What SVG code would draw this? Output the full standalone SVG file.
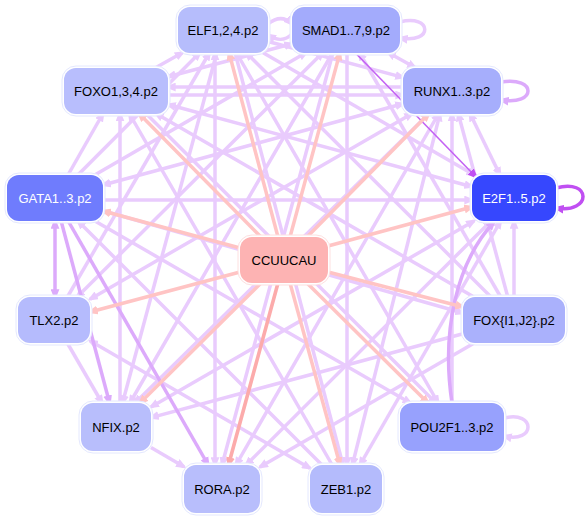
<svg xmlns="http://www.w3.org/2000/svg" width="587" height="518" viewBox="0 0 587 518">
<style>
.e{fill:none;stroke-width:3.5}
.l{stroke:#e9cbfd}
.m{stroke:#dcaafb}
.d{stroke:#c462f4;stroke-width:1.6}
.p{stroke:#ffc4c4}
.pd{stroke:#fcabab;stroke-width:3.6}
.halo{fill:#ffffff;stroke:#e4e8fe;stroke-width:1}
text{font-family:"Liberation Sans",Arial,sans-serif;font-size:13px;text-anchor:middle;dominant-baseline:central;fill:#000}
.w{fill:#ffffff}
</style>
<defs>
<marker id="ml" viewBox="0 0 10 8" refX="7" refY="4" markerWidth="11" markerHeight="9" markerUnits="userSpaceOnUse" orient="auto-start-reverse"><path d="M0,0 L10,4 L0,8 Z" fill="#e9cbfd"/></marker>
<marker id="mm" viewBox="0 0 10 8" refX="7" refY="4" markerWidth="11" markerHeight="9" markerUnits="userSpaceOnUse" orient="auto-start-reverse"><path d="M0,0 L10,4 L0,8 Z" fill="#dcaafb"/></marker>
<marker id="md" viewBox="0 0 10 8" refX="7" refY="4" markerWidth="11" markerHeight="9" markerUnits="userSpaceOnUse" orient="auto-start-reverse"><path d="M0,0 L10,4 L0,8 Z" fill="#c04ff2"/></marker>
<marker id="mp" viewBox="0 0 10 8" refX="7" refY="4" markerWidth="11" markerHeight="9" markerUnits="userSpaceOnUse" orient="auto-start-reverse"><path d="M0,0 L10,4 L0,8 Z" fill="#ffc4c4"/></marker>
<marker id="mpd" viewBox="0 0 10 8" refX="7" refY="4" markerWidth="11" markerHeight="9" markerUnits="userSpaceOnUse" orient="auto-start-reverse"><path d="M0,0 L10,4 L0,8 Z" fill="#fcabab"/></marker>
</defs>
<g id="connectors">
<g class="e l" marker-end="url(#ml)">
<path d="M156,67.5 L182.7,52.5"/>
<path d="M68,175 L103,113.5"/>
<path d="M120,403 L120,113.5"/>
<path d="M403,87 L168,87"/>
<path d="M168,95 L403,95"/>
<path d="M472,186.7 L168,104.5" marker-start="url(#ml)"/>
<path d="M292,43.8 L168,76.7" marker-start="url(#ml)"/>
<path d="M474,297 L155.8,113.5"/>
<path d="M103,200 L472,200"/>
<path d="M94.7,175 L306.3,52.5"/>
<path d="M77.9,175 L200,52.5"/>
<path d="M103,185 L403,103.8" marker-start="url(#ml)"/>
<path d="M77.1,297 L322.9,52.5" marker-start="url(#ml)"/>
<path d="M67.4,297 L209.6,52.5"/>
<path d="M90,299.2 L412.2,113.5" marker-start="url(#ml)"/>
<path d="M90,340.8 L310,468.2" marker-start="url(#ml)"/>
<path d="M216.8,52.5 L122.5,403"/>
<path d="M332.7,52.5 L129.9,403"/>
<path d="M151,447.5 L184,466.8"/>
<path d="M429,113.5 L135,403"/>
<path d="M151,406.9 L474,221" marker-start="url(#ml)"/>
<path d="M463,333.7 L151,417.6"/>
<path d="M514,297 L514,221"/>
<path d="M474.3,343 L260,467"/>
<path d="M500.7,297 L359.3,52.5"/>
<path d="M491,297 L246,52.5"/>
<path d="M438.2,403 L236.3,52.5" marker-start="url(#ml)"/>
<path d="M452,403 L452,113.5"/>
<path d="M507.8,297 L458.2,113.5"/>
<path d="M215,52.5 L215,465" marker-start="url(#ml)"/>
<path d="M333,52.5 L222,465"/>
<path d="M235.9,465 L438.7,113.5" marker-start="url(#ml)"/>
<path d="M246.1,465 L491,221" marker-start="url(#ml)"/>
<path d="M347,52.5 L347,465"/>
<path d="M235,52.5 L343,465"/>
<path d="M440,113.5 L352.4,465" marker-start="url(#ml)"/>
<path d="M500.7,221 L359.9,465" marker-start="url(#ml)"/>
<path d="M332.2,465 L129.3,113.5"/>
<path d="M322,465 L78,221"/>
<path d="M388,52.5 L415,67.5" marker-start="url(#ml)"/>
<path d="M470,113.5 L500,175" marker-start="url(#ml)"/>
<path d="M146,113.5 L436,403"/>
<path d="M262.7,52.5 L474.3,175"/>
<path d="M268,41.5 L403,77.4"/>
<path d="M94.9,221 L410.4,403"/>
<path d="M103,210.8 L463,313"/>
<path d="M67.3,343 L102.1,403"/>
<path d="M268,24 C278,16 286,18 292,24"/>
<path d="M292,34 C284,42 276,40 268,35"/>
<path d="M400,22 C432,14 434,44 400,38"/>
<path d="M504,418 C536,410 536,444 504,436"/>
</g>
<g class="e m" marker-end="url(#mm)">
<path d="M55,221 L55,297" marker-start="url(#mm)"/>
<path d="M61.1,221 L109.6,403"/>
<path d="M68.2,221 L208.2,465"/>
<path d="M452,403 C441,330 457,262 494,222"/>
<path d="M501,82 C537,76 537,106 501,100"/>
</g>
<g class="e d" marker-end="url(#md)">
<path d="M355,52.5 L476,177"/>
<path d="M556,188 C592,178 592,214 556,208" style="stroke-width:3.5;stroke:#c04ff2"/>
</g>
<g class="e p" marker-end="url(#mp)">
<path d="M261,237 L139,113.5"/>
<path d="M278,237 L229,52.5"/>
<path d="M290,237 L340,52.5"/>
<path d="M307,237 L429,113.5"/>
<path d="M240,248 L103,211"/>
<path d="M328,246 L472,207"/>
<path d="M240,272 L90,312"/>
<path d="M328,272 L463,307"/>
<path d="M261,283 L140,403"/>
<path d="M307,283 L428,403"/>
<path d="M290,283 L340,465"/>
</g>
<g class="e pd" marker-end="url(#mpd)">
<path d="M278,283 L228.5,465"/>
</g>
</g>
<g id="node-ELF"><rect class="halo" x="176" y="5" width="94" height="50" rx="14"/><rect x="178" y="7" width="90" height="46" rx="12" fill="#b6bdfc"/><text x="223" y="30">ELF1,2,4.p2</text></g>
<g id="node-SMAD"><rect class="halo" x="290" y="5" width="112" height="50" rx="14"/><rect x="292" y="7" width="108" height="46" rx="12" fill="#a3abfc"/><text x="346" y="30">SMAD1..7,9.p2</text></g>
<g id="node-FOXO"><rect class="halo" x="62" y="66" width="108" height="50" rx="14"/><rect x="64" y="68" width="104" height="46" rx="12" fill="#b8befd"/><text x="116" y="91">FOXO1,3,4.p2</text></g>
<g id="node-RUNX"><rect class="halo" x="401" y="66" width="102" height="50" rx="14"/><rect x="403" y="68" width="98" height="46" rx="12" fill="#a6aefc"/><text x="452" y="91">RUNX1..3.p2</text></g>
<g id="node-GATA"><rect class="halo" x="5" y="173" width="100" height="50" rx="14"/><rect x="7" y="175" width="96" height="46" rx="12" fill="#6f7cfd"/><text class="w" x="55" y="198">GATA1..3.p2</text></g>
<g id="node-E2F"><rect class="halo" x="470" y="173" width="88" height="50" rx="14"/><rect x="472" y="175" width="84" height="46" rx="12" fill="#3647fe"/><text class="w" x="514" y="198">E2F1..5.p2</text></g>
<g id="node-CCUUCAU"><rect x="238" y="235" width="92" height="50" rx="14" fill="#ffffff" stroke="#fde0e0" stroke-width="1"/><rect x="240" y="237" width="88" height="46" rx="12" fill="#fdb3b3"/><text x="284" y="260">CCUUCAU</text></g>
<g id="node-TLX2"><rect class="halo" x="16" y="295" width="76" height="50" rx="14"/><rect x="18" y="297" width="72" height="46" rx="12" fill="#b5bbfd"/><text x="54" y="320">TLX2.p2</text></g>
<g id="node-FOXIJ"><rect class="halo" x="461" y="295" width="106" height="50" rx="14"/><rect x="463" y="297" width="102" height="46" rx="12" fill="#aab1fc"/><text x="514" y="320">FOX{I1,J2}.p2</text></g>
<g id="node-NFIX"><rect class="halo" x="79" y="401" width="74" height="52" rx="14"/><rect x="81" y="403" width="70" height="48" rx="12" fill="#b8befc"/><text x="116" y="427">NFIX.p2</text></g>
<g id="node-POU"><rect class="halo" x="398" y="401" width="108" height="52" rx="14"/><rect x="400" y="403" width="104" height="48" rx="12" fill="#97a1fd"/><text x="452" y="427">POU2F1..3.p2</text></g>
<g id="node-RORA"><rect class="halo" x="182" y="463" width="80" height="52" rx="14"/><rect x="184" y="465" width="76" height="48" rx="12" fill="#b8befc"/><text x="222" y="489">RORA.p2</text></g>
<g id="node-ZEB"><rect class="halo" x="308" y="463" width="76" height="52" rx="14"/><rect x="310" y="465" width="72" height="48" rx="12" fill="#b4bbfc"/><text x="346" y="489">ZEB1.p2</text></g>
</svg>
